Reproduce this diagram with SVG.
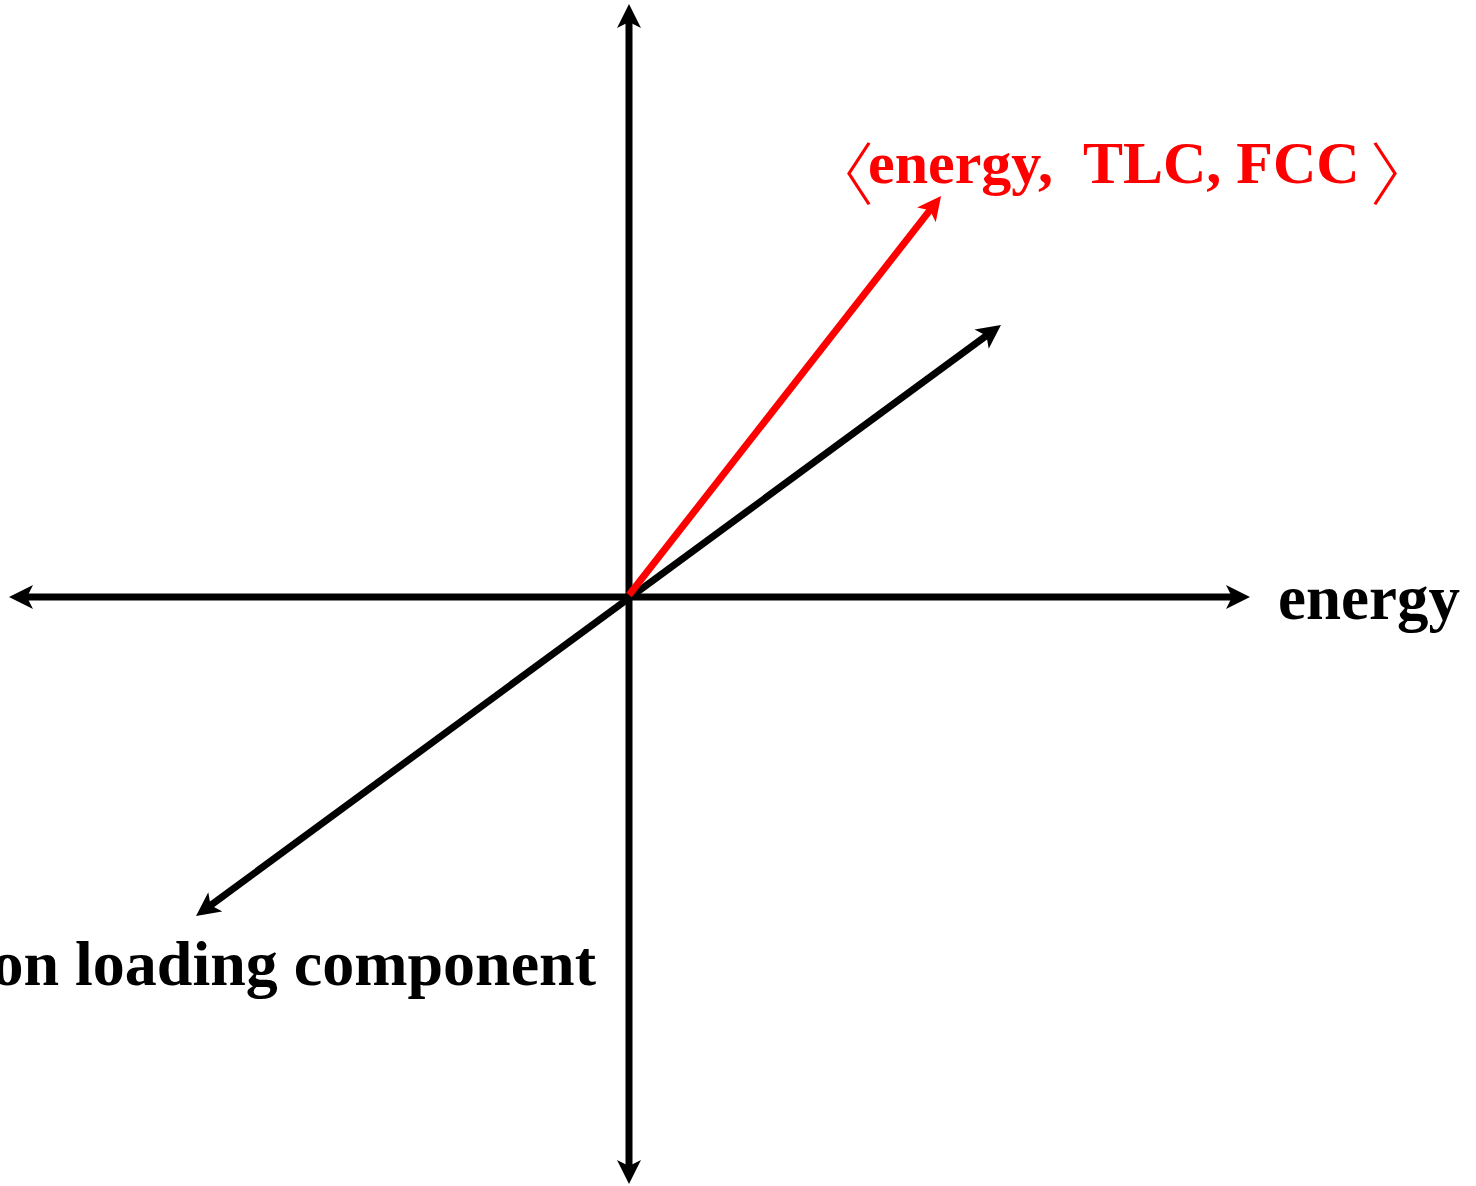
<svg xmlns="http://www.w3.org/2000/svg" width="1476" height="1186" viewBox="0 0 1476 1186">
<style>
.ax{stroke:#000;stroke-width:7;fill:none}
.red{stroke:#ff0000;stroke-width:7;fill:none}
.lbl{font-family:"Liberation Serif","Times New Roman",serif;font-weight:bold}
.br{font-family:"Noto Sans CJK JP",sans-serif;font-weight:300;font-size:68px;fill:#ff0000}
</style>
<defs>
<marker id="ab" markerUnits="userSpaceOnUse" markerWidth="30" markerHeight="30" refX="14" refY="12" orient="auto-start-reverse" viewBox="0 0 30 30">
<path d="M0,0 L24,12 L0,24 L6,12 Z" fill="#000"/>
</marker>
<marker id="ar" markerUnits="userSpaceOnUse" markerWidth="30" markerHeight="30" refX="14" refY="12" orient="auto" viewBox="0 0 30 30">
<path d="M0,0 L24,12 L0,24 L6,12 Z" fill="#ff0000"/>
</marker>
</defs>
<g id="connectors">
<line class="ax" x1="629" y1="14" x2="629" y2="1174" marker-start="url(#ab)" marker-end="url(#ab)"/>
<line class="ax" x1="19" y1="597" x2="1240" y2="597" marker-start="url(#ab)" marker-end="url(#ab)"/>
<line class="ax" x1="204.1" y1="910.1" x2="992.9" y2="330.9" marker-start="url(#ab)" marker-end="url(#ab)"/>
<line class="red" x1="629" y1="595" x2="934.9" y2="203.9" marker-end="url(#ar)"/>
</g>
<g id="label-energy">
<text class="lbl" x="1278" y="619" font-size="63" fill="#000">energy</text>
</g>
<g id="label-loading">
<text class="lbl" x="596" y="985" font-size="64" fill="#000" text-anchor="end">on loading component</text>
</g>
<g id="label-vector">
<text class="br" x="806" y="200">〈</text>
<text class="lbl" y="183" font-size="60" fill="#ff0000"><tspan x="868">energy,</tspan><tspan x="1083">TLC, FCC</tspan></text>
<text class="br" x="1370" y="200">〉</text>
</g>
</svg>
